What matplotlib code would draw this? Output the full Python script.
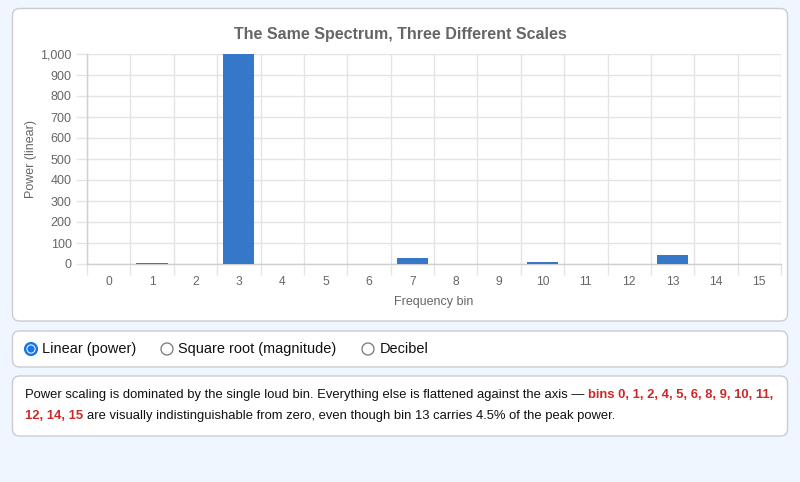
import numpy as np
import matplotlib
matplotlib.use("Agg")
import matplotlib.pyplot as plt
from matplotlib.patches import FancyBboxPatch, Circle
from matplotlib.ticker import FuncFormatter

# ---- data ----
bins = list(range(16))
power = [0.5, 3.0, 0.6, 1000, 0.3, 0.8, 0.7, 29, 0.5, 0.4, 11, 0.6, 0.3, 45, 0.7, 0.5]
y_ticks = list(range(0, 1001, 100))
title = "The Same Spectrum, Three Different Scales"
x_label = "Frequency bin"
y_label = "Power (linear)"
radio_labels = ["Linear (power)", "Square root (magnitude)", "Decibel"]
note_parts = [
    [("Power scaling is dominated by the single loud bin. Everything else is flattened against the axis \u2014", False),
     ("bins 0, 1, 2, 4, 5, 6, 8, 9, 10, 11,", True)],
    [("12, 14, 15", True),
     ("are visually indistinguishable from zero, even though bin 13 carries 4.5% of the peak power.", False)],
]

W, H = 800, 482
plt.rcParams['font.family'] = ['Liberation Sans', 'DejaVu Sans']
fig = plt.figure(figsize=(W / 100, H / 100), dpi=100)
fig.patch.set_facecolor('#eff6ff')

bg = fig.add_axes([0, 0, 1, 1], zorder=0)
bg.set_xlim(0, W)
bg.set_ylim(H, 0)
bg.axis('off')

def card(x0, y0, x1, y1):
    bg.add_patch(FancyBboxPatch((x0, y0), x1 - x0, y1 - y0,
                                boxstyle="round,pad=0,rounding_size=7",
                                facecolor='white', edgecolor='#c9cdd2', linewidth=1.0))

card(12.5, 8.5, 787.5, 321)
card(12.5, 331, 787.5, 367)
card(12.5, 376, 787.5, 436)

PX = 0.72  # px -> pt

# ---- chart ----
L, R, T, B = 87, 781, 54, 264
ax = fig.add_axes([L / W, 1 - B / H, (R - L) / W, (B - T) / H], zorder=1)
ax.set_facecolor('none')
grid_c = '#e4e4e4'
ax.bar(bins, power, width=0.72, color='#3578c9', edgecolor='#3578c9', linewidth=0, zorder=3)
ax.set_xlim(-0.5, 15.5)
ax.set_ylim(0, 1000)
ax.set_yticks(y_ticks)
ax.yaxis.set_major_formatter(FuncFormatter(lambda v, p: f"{int(v):,}"))
ax.set_xticks(bins)
ax.set_xticks(np.arange(-0.5, 16, 1), minor=True)
ax.grid(axis='y', which='major', color=grid_c, linewidth=1, zorder=0)
ax.grid(axis='x', which='minor', color=grid_c, linewidth=1, zorder=0)
ax.tick_params(axis='x', which='major', length=0, pad=8.5, labelsize=12 * PX, labelcolor='#666666')
ax.tick_params(axis='x', which='minor', length=8, color=grid_c, width=1)
ax.tick_params(axis='y', which='major', length=8, color=grid_c, width=1, pad=3,
               labelsize=12.5 * PX, labelcolor='#666666')
for s in ['top', 'right']:
    ax.spines[s].set_visible(False)
for s in ['left', 'bottom']:
    ax.spines[s].set_color('#d0d0d0')
    ax.spines[s].set_linewidth(1)

bg.text(400, 34, title, ha='center', va='center', fontsize=16 * PX, fontweight='bold', color='#666666')
bg.text(31, 159, y_label, ha='center', va='center', rotation=90, fontsize=12.5 * PX, color='#666666')
bg.text((L + R) / 2, 302, x_label, ha='center', va='center', fontsize=12.5 * PX, color='#666666')

# ---- radio buttons ----
radio_cx = [31, 167, 368]
for i, (cx, lab) in enumerate(zip(radio_cx, radio_labels)):
    if i == 0:
        bg.add_patch(Circle((cx, 349), 6.5, facecolor='#1a73e8', edgecolor='#1a73e8', lw=0.8))
        bg.add_patch(Circle((cx, 349), 4.6, facecolor='white', edgecolor='none'))
        bg.add_patch(Circle((cx, 349), 3.6, facecolor='#1a73e8', edgecolor='none'))
    else:
        bg.add_patch(Circle((cx, 349), 6, facecolor='white', edgecolor='#767676', lw=0.9))
    bg.text(cx + 11.5, 349, lab, ha='left', va='center', fontsize=14.5 * PX, color='#111111')

# ---- note text ----
fig.canvas.draw()
rend = fig.canvas.get_renderer()
fs = 13 * PX

def width_of(s, bold):
    t = bg.text(0, 0, s, fontsize=fs, fontweight='bold' if bold else 'normal')
    w = t.get_window_extent(rend).width
    t.remove()
    return w

space_w = width_of("x x", False) - width_of("xx", False)
line_y = [395, 416]
for ly, parts in zip(line_y, note_parts):
    x = 25
    for s, bold in parts:
        t = bg.text(x, ly, s, ha='left', va='center', fontsize=fs,
                    fontweight='bold' if bold else 'normal',
                    color='#cc2828' if bold else '#111111')
        x += t.get_window_extent(rend).width + space_w

fig.savefig('out.png', dpi=100, facecolor=fig.get_facecolor())
